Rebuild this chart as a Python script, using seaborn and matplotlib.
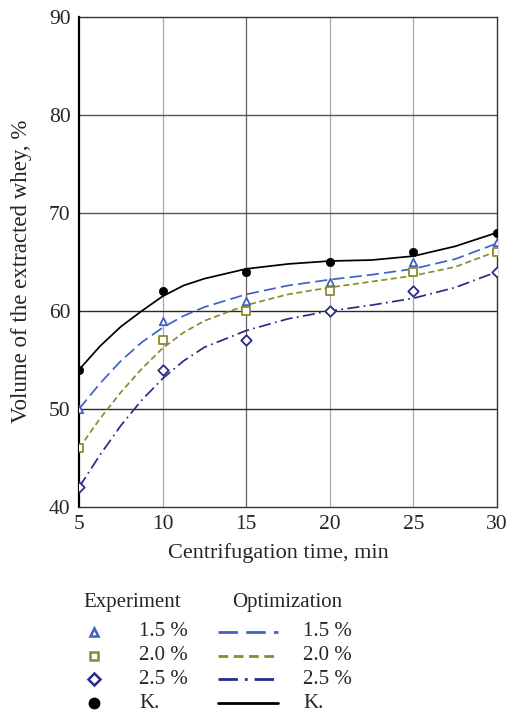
import numpy as np
import pandas as pd
import matplotlib
matplotlib.use('Agg')
import matplotlib.pyplot as plt
import seaborn as sns

# experiment points
t_exp = [5, 10, 15, 20, 25, 30]
exp_15 = [50, 59, 61, 63, 65, 67]
exp_20 = [46, 57, 60, 62, 64, 66]
exp_25 = [42, 54, 57, 60, 62, 64]
exp_k = [54, 62, 64, 65, 66, 68]

# optimization curves
t_opt = [5, 6.25, 7.5, 8.75, 10, 11.25, 12.5, 15, 17.5, 20, 22.5, 25, 27.5, 30]
opt_15 = [50, 52.6, 54.9, 56.8, 58.3, 59.5, 60.4, 61.7, 62.6, 63.2, 63.7, 64.3, 65.3, 66.9]
opt_20 = [46, 49.0, 51.7, 54.1, 56.2, 57.8, 59.0, 60.6, 61.7, 62.4, 63.0, 63.6, 64.5, 66.1]
opt_25 = [42, 45.3, 48.3, 50.9, 53.1, 54.9, 56.3, 58.0, 59.2, 60.0, 60.6, 61.3, 62.4, 64.0]
opt_k = [54, 56.4, 58.4, 60.0, 61.5, 62.6, 63.3, 64.3, 64.8, 65.1, 65.2, 65.6, 66.6, 68.0]

labels = ['1.5 %', '2.0 %', '2.5 %', 'K.']
x_ticks = [5, 10, 15, 20, 25, 30]
y_ticks = [40, 50, 60, 70, 80, 90]

colors = ['#3f62c4', '#8a8a2e', '#2b2b86', '#000000']
markers = ['^', 's', 'D', 'o']
dashes = [(7, 3), (3.5, 2), (7, 2.5, 1, 2.5), ()]

sns.set_style('white')
plt.rcParams['font.family'] = ['Liberation Serif', 'DejaVu Serif']

df_exp = pd.DataFrame({'t': t_exp * 4,
                       'v': exp_15 + exp_20 + exp_25 + exp_k,
                       's': [l for l in labels for _ in t_exp]})
df_opt = pd.DataFrame({'t': t_opt * 4,
                       'v': opt_15 + opt_20 + opt_25 + opt_k,
                       's': [l for l in labels for _ in t_opt]})

fig = plt.figure(figsize=(5.12, 7.15), dpi=100)
ax = fig.add_axes([79/512, 1-507/715, (497-79)/512, (507-17)/715])

pal = dict(zip(labels, colors))
sns.lineplot(data=df_opt, x='t', y='v', hue='s', style='s', palette=pal,
             dashes=dict(zip(labels, dashes)), linewidth=1.25, legend=False, ax=ax)
for i, l in enumerate(labels):
    d = df_exp[df_exp.s == l]
    if l == 'K.':
        sns.scatterplot(x=d.t, y=d.v, marker='o', color='black', s=36,
                        edgecolor='black', legend=False, ax=ax, zorder=5)
    else:
        ax.scatter(d.t, d.v, marker=markers[i], s=28, facecolor='white',
                   edgecolor=colors[i], linewidth=1.3, zorder=5)

ax.set_xlim(5, 30)
ax.set_ylim(40, 90)
ax.set_xticks(x_ticks)
ax.set_yticks(y_ticks)
for x in x_ticks[1:-1]:
    ax.axvline(x, color='#606060' if x == 15 else '#a8a8a8', lw=0.9, zorder=0)
for y in y_ticks[1:-1]:
    ax.axhline(y, color='#2a2a2a' if y < 70 else '#555555', lw=1.0, zorder=0)
ax.tick_params(length=0, labelsize=15.5, pad=6)
ax.set_xlabel('Centrifugation time, min', fontsize=16)
ax.set_ylabel('Volume of the extracted whey, %', fontsize=16.5)
ax.xaxis.set_label_coords(0.478, -0.074)
ax.yaxis.set_label_coords(-0.112, 0.482)
for sp in ax.spines.values():
    sp.set_color('#333333')
    sp.set_linewidth(1.0)
ax.spines['left'].set_color('black')
ax.spines['left'].set_linewidth(1.6)

# legend table
lax = fig.add_axes([0, 0, 1, 1 - 560/715])
lax.set_xlim(0, 512)
lax.set_ylim(715, 560)
lax.axis('off')
fs = 15
lax.text(83, 602, 'Experiment', fontsize=fs, va='center', ha='left')
lax.text(232, 602, 'Optimization', fontsize=fs, va='center', ha='left')
rows = [632, 656, 679, 703]
for i, l in enumerate(labels):
    y = rows[i]
    if l == 'K.':
        lax.plot([94], [y], marker='o', color='black', ms=7.5, ls='none')
    else:
        lax.plot([94], [y], marker=markers[i], ms=6, mfc='white',
                 mec=colors[i], mew=1.8, ls='none')
    lax.plot([218, 278], [y, y], color=colors[i], lw=2,
             dashes=dashes[i] if dashes[i] else (None, None))
    lax.text(139, y, l, fontsize=fs, va='center', ha='left')
    lax.text(303, y, l, fontsize=fs, va='center', ha='left')

fig.savefig('out.png', dpi=100)
